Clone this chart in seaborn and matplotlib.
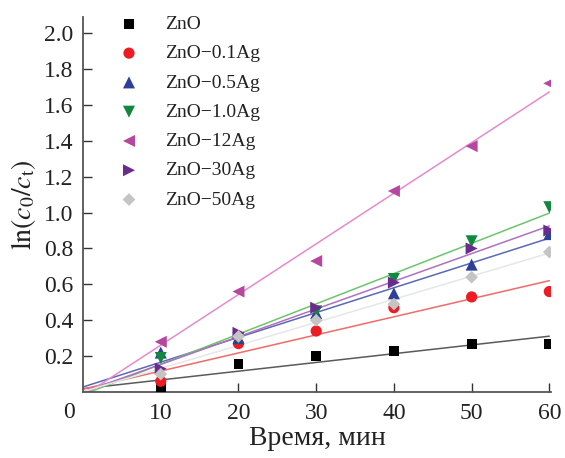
import numpy as np
import pandas as pd
import matplotlib
matplotlib.use("Agg")
import matplotlib.pyplot as plt
import seaborn as sns

# ---- data ----
time_min = [0, 10, 20, 30, 40, 50, 60]
zno      = [0, 0.03, 0.155, 0.20, 0.23, 0.27, 0.27]
zno_01ag = [0, 0.06, 0.27, 0.34, 0.47, 0.53, 0.56]
zno_05ag = [0, 0.22, 0.30, 0.44, 0.55, 0.71, 0.88]
zno_10ag = [0, 0.19, 0.30, 0.45, 0.63, 0.84, 1.03]
zno_12ag = [0, 0.28, 0.56, 0.73, 1.12, 1.37, 1.72]
zno_30ag = [0, 0.13, 0.33, 0.47, 0.61, 0.80, 0.90]
zno_50ag = [0, 0.10, 0.31, 0.40, 0.49, 0.64, 0.78]
labels = ["ZnO", "ZnO\u22120.1Ag", "ZnO\u22120.5Ag", "ZnO\u22121.0Ag",
          "ZnO\u221212Ag", "ZnO\u221230Ag", "ZnO\u221250Ag"]
x_ticks = [10, 20, 30, 40, 50, 60]
y_ticks = [0.2, 0.4, 0.6, 0.8, 1.0, 1.2, 1.4, 1.6, 1.8, 2.0]

series = [zno, zno_01ag, zno_05ag, zno_10ag, zno_12ag, zno_30ag, zno_50ag]
markers = ["s", "o", "^", "v", "<", ">", "D"]
msizes = [50, 65, 75, 75, 75, 75, 42]
mcolors = ["#000000", "#ec1c24", "#2e3f98", "#12873f", "#b5479e", "#6a2c8c", "#c4c4c4"]
lcolors = ["#5a5a5a", "#f26a6a", "#5a68b8", "#6cc56c", "#e58ad0", "#b070c0", "#e4e8e8"]

sns.set_theme(style="ticks")
plt.rcParams["font.family"] = ["Liberation Serif", "DejaVu Serif"]
plt.rcParams["mathtext.fontset"] = "stix"

fig = plt.figure(figsize=(5.65, 4.58), dpi=100)
ax = fig.add_axes([0.147, 0.144, 0.828, 0.819])

df = pd.DataFrame({"t": time_min})
for lab, ys, lc in zip(labels, series, lcolors):
    df[lab] = ys
    sns.regplot(data=df, x="t", y=lab, ax=ax, ci=None, scatter=False,
                line_kws=dict(color=lc, lw=1.1, zorder=2))
for lab, ys, mk, ms, mc in zip(labels, series, markers, msizes, mcolors):
    sub = pd.DataFrame({"t": time_min[1:], "v": ys[1:]})
    sns.scatterplot(data=sub, x="t", y="v", ax=ax, marker=mk, s=ms, color=mc,
                    edgecolor="none", linewidth=0, zorder=3, label=lab)

ax.set_xlim(0, 60.2)
ax.set_ylim(0, 2.09)
ax.set_xticks(x_ticks)
ax.set_yticks(y_ticks)
ax.set_xticklabels([str(v) for v in x_ticks])
ax.set_yticklabels([f"{v:.1f}" for v in y_ticks])
for s in ["top", "right"]:
    ax.spines[s].set_visible(False)
for s in ["left", "bottom"]:
    ax.spines[s].set_color("#555555")
    ax.spines[s].set_linewidth(1.3)
ax.tick_params(axis="both", direction="in", length=6.5, width=1.0, color="#333333",
               labelsize=17, labelcolor="#222222")
ax.tick_params(axis="x", pad=8)
ax.tick_params(axis="y", pad=7)
ax.annotate("0", xy=(0, 0), xycoords="data", xytext=(-10, -15),
            textcoords="offset points", ha="center", va="center",
            fontsize=17, color="#222222")
ax.set_xlabel("Время, мин", fontsize=20, color="#222222", labelpad=1)
ax.set_ylabel(r"$\mathrm{ln}(c_0/c_\mathrm{t})$", fontsize=20, color="#222222", labelpad=4)

leg = ax.legend(loc="upper left", bbox_to_anchor=(0.04, 1.025), borderaxespad=0,
                frameon=False, fontsize=14, labelspacing=0.6, handletextpad=0.85,
                markerscale=1.0)
for t in leg.get_texts():
    t.set_color("#222222")

fig.savefig("out.png", dpi=100)
